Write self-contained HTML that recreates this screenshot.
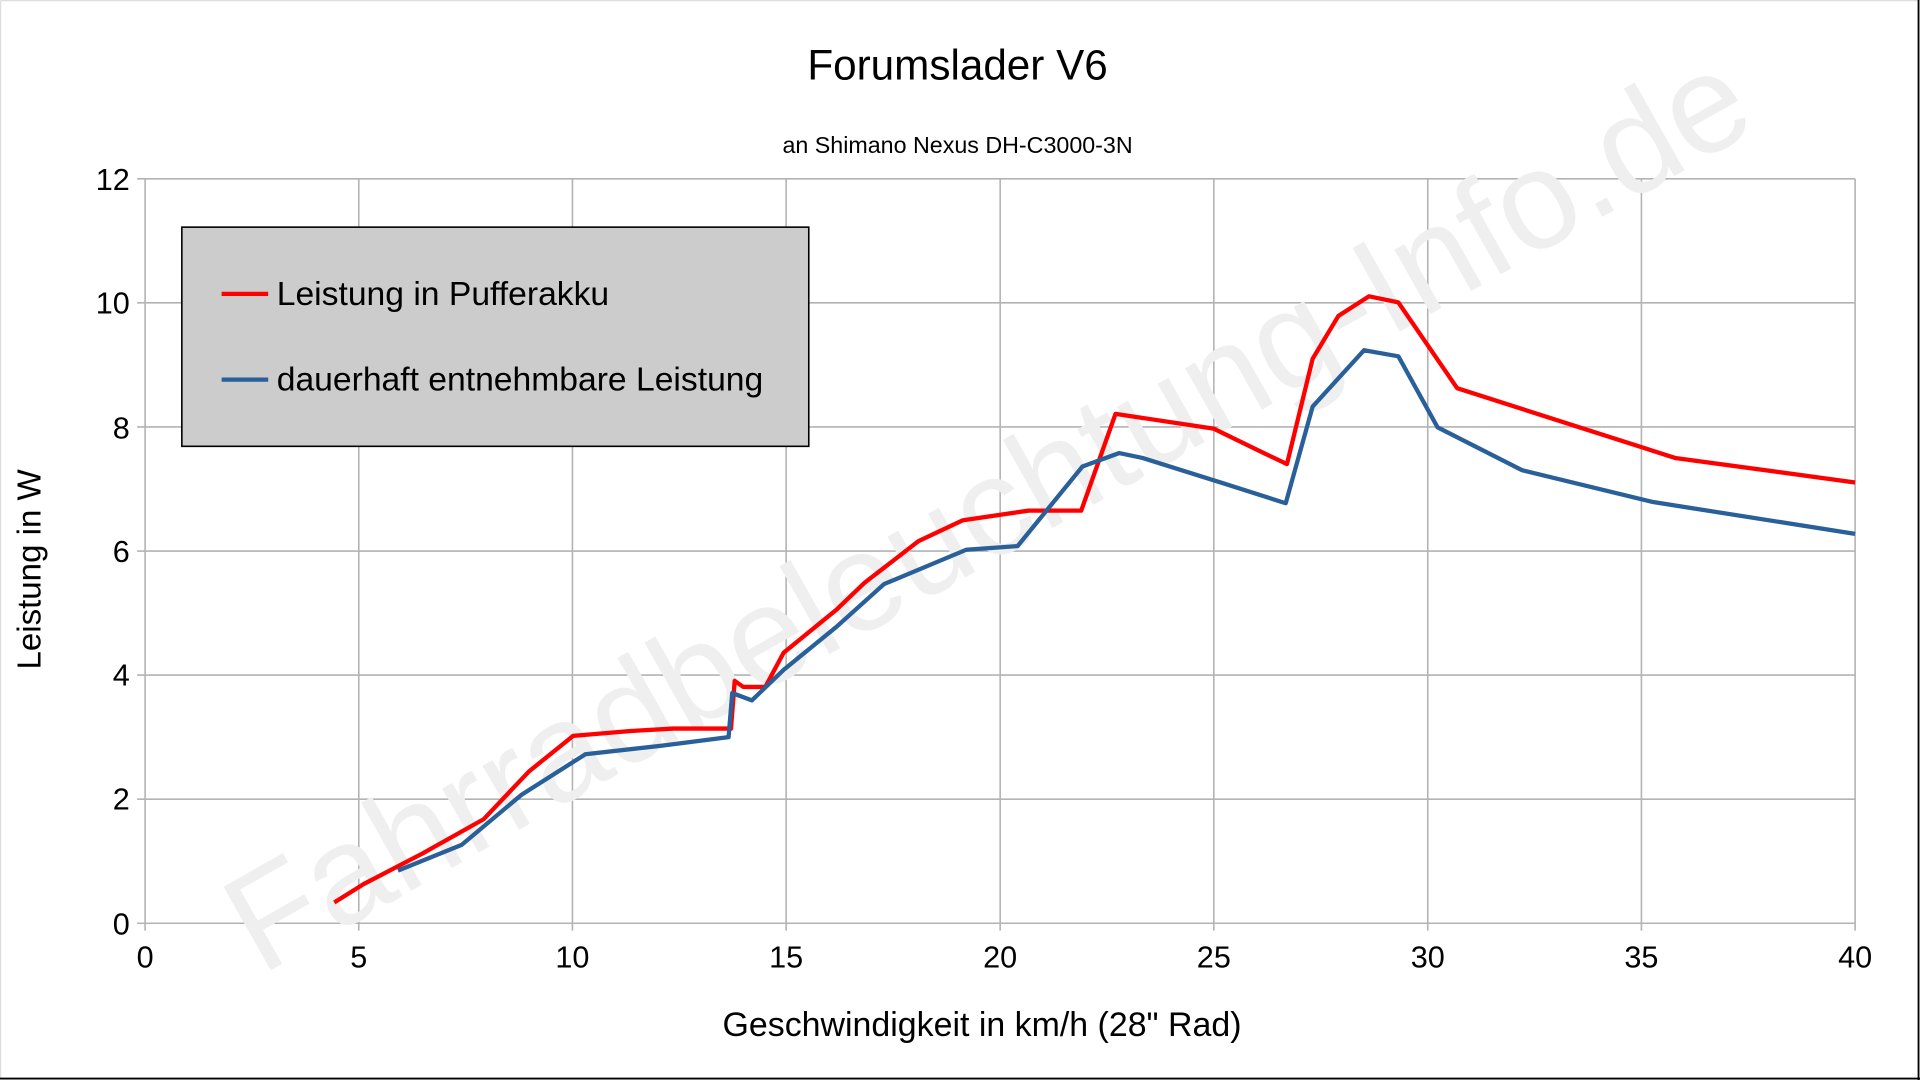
<!DOCTYPE html>
<html><head><meta charset="utf-8"><style>
html,body{margin:0;padding:0;background:#fff;}
svg{display:block;}
text{font-family:"Liberation Sans",sans-serif;fill:#000;}
</style></head><body>
<svg width="1920" height="1080" viewBox="0 0 1568 882" xmlns="http://www.w3.org/2000/svg">
<rect x="0" y="0" width="1568" height="882" fill="#fff"/>
<line x1="0.5" y1="0.5" x2="1567" y2="0.5" stroke="#ddd" stroke-width="1"/>
<line x1="0.5" y1="0.5" x2="0.5" y2="881" stroke="#ddd" stroke-width="1"/>
<line x1="1566.8" y1="0" x2="1566.8" y2="882" stroke="#000" stroke-width="1.5"/>
<line x1="0" y1="880.8" x2="1568" y2="880.8" stroke="#000" stroke-width="1.5"/>
<text x="782" y="65" font-size="34.5" text-anchor="middle">Forumslader V6</text>
<text x="782" y="125" font-size="19" text-anchor="middle">an Shimano Nexus DH-C3000-3N</text>
<g stroke="#b3b3b3" stroke-width="1.3" fill="none">
<path d="M112 146H1515M112 247.3H1515M112 348.7H1515M112 450H1515M112 551.3H1515M112 652.7H1515M112 754H1515"/>
<path d="M118.5 146V760M293 146V760M467.5 146V760M642 146V760M816.8 146V760M991.3 146V760M1166 146V760M1340.5 146V760M1515 146V760"/>
</g>
<text x="0" y="0" font-size="114" style="fill:#efefef" transform="translate(213,797) rotate(-29.5)">Fahrradbeleuchtung-Info.de</text>
<g font-size="25" text-anchor="end">
<text x="106" y="763">0</text><text x="106" y="661">2</text><text x="106" y="560">4</text><text x="106" y="459">6</text><text x="106" y="358">8</text><text x="106" y="256">10</text><text x="106" y="155">12</text>
</g>
<g font-size="25" text-anchor="middle">
<text x="118.5" y="790">0</text><text x="293" y="790">5</text><text x="467.5" y="790">10</text><text x="642" y="790">15</text><text x="816.8" y="790">20</text><text x="991.3" y="790">25</text><text x="1166" y="790">30</text><text x="1340.5" y="790">35</text><text x="1515" y="790">40</text>
</g>
<text x="802" y="846" font-size="27.7" text-anchor="middle">Geschwindigkeit in km/h (28" Rad)</text>
<text x="0" y="0" font-size="27" text-anchor="middle" transform="translate(33,465) rotate(-90)">Leistung in W</text>
<polyline fill="none" stroke="#ff0000" stroke-width="3.5" stroke-linejoin="round" points="273,737 297,722 345,697 395,669 432,630 468,601 515,597 550,595 597,595 600,556 607,561 625,561 640,533 683,498 706,476 750,442 786,425 840,417 883,417 911,338 991,350 1030,369 1051,379 1072,293 1093,258 1118,242 1142,247 1190,317 1368,374 1515,394"/>
<polyline fill="none" stroke="#2a6099" stroke-width="3.5" stroke-linejoin="round" points="325,711 377,690 426,649 478,616 540,609 595,602 598,566 614,572 640,547 683,512 722,477 789,449 831,446 884,381 914,370 933,374 1000,395 1050,411 1072,332 1114,286 1142,291 1174,349 1243,384 1350,410 1515,436"/>
<rect x="148.5" y="185.5" width="512" height="179" fill="#cccccc" stroke="#000" stroke-width="1.3"/>
<line x1="181" y1="240" x2="219" y2="240" stroke="#ff0000" stroke-width="3.5"/>
<line x1="181" y1="310" x2="219" y2="310" stroke="#2a6099" stroke-width="3.5"/>
<text x="226" y="249" font-size="27.5">Leistung in Pufferakku</text>
<text x="226" y="319" font-size="27.5">dauerhaft entnehmbare Leistung</text>
</svg>
</body></html>
